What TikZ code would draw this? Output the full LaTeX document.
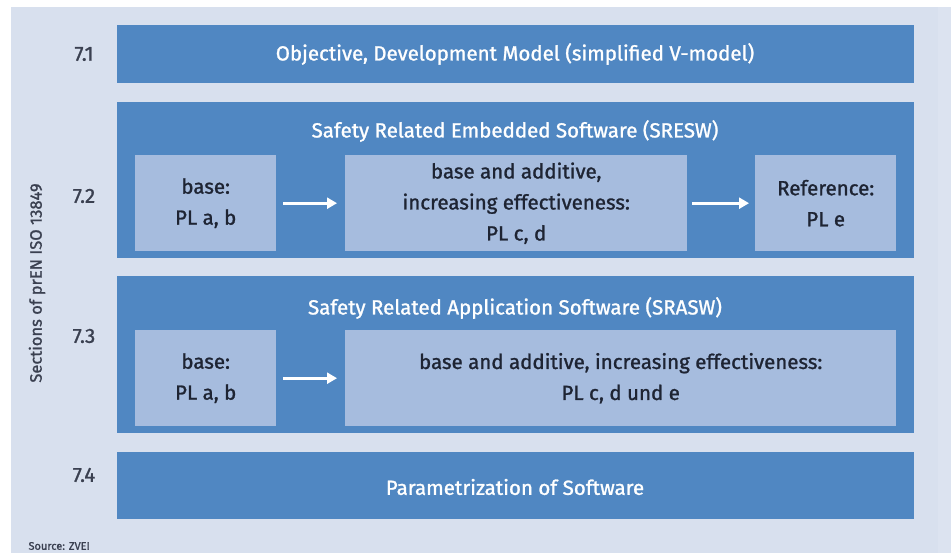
\documentclass[tikz,border=0pt]{standalone}
\usepackage{fontspec}
\setmainfont{Fira Sans}[FakeBold=1.2]
\usetikzlibrary{arrows.meta}
\definecolor{bgc}{HTML}{D8E0EE}
\definecolor{outerc}{HTML}{5087C2}
\definecolor{innerc}{HTML}{A6BCDE}
\definecolor{txtc}{HTML}{1E2433}
\definecolor{numc}{HTML}{3A4050}
\tikzset{
  outerbox/.style={fill=outerc, draw=none, inner sep=0pt, anchor=north west},
  innerbox/.style={fill=innerc, draw=none, inner sep=0pt, anchor=north west},
  headtxt/.style={text=white, font=\fontsize{20.5}{24}\selectfont},
  bodytxt/.style={text=txtc, align=center, font=\fontsize{20.5}{31}\selectfont},
  numtxt/.style={text=numc, font=\fontsize{20.5}{24}\selectfont},
  arr/.style={draw=white, line width=3pt, -{Triangle[length=10pt,width=11pt]}},
}
\begin{document}
\begin{tikzpicture}[x=1pt,y=-1pt]
\useasboundingbox (0,0) rectangle (951,553);
\fill[white] (0,0) rectangle (951,553);
\fill[bgc] (11,7) rectangle (951,553);
\fill[bgc!90!white] (938,7) rectangle (951,553);
% outer boxes
\node[outerbox, minimum width=797pt, minimum height=58pt] (b71) at (117,25) {};
\node[outerbox, minimum width=797pt, minimum height=156pt] (b72) at (117,102) {};
\node[outerbox, minimum width=797pt, minimum height=157pt] (b73) at (117,276) {};
\node[outerbox, minimum width=797pt, minimum height=67pt] (b74) at (117,452) {};
% headers
\node[headtxt] (h71) at (515,54) {Objective, Development Model (simplified V-model)};
\node[headtxt] (h72) at (515,131) {Safety Related Embedded Software (SRESW)};
\node[headtxt] (h73) at (515,308) {Safety Related Application Software (SRASW)};
\node[headtxt] (h74) at (515,487) {Parametrization of Software};
% inner boxes 7.2
\node[innerbox, minimum width=141pt, minimum height=96pt] (a72) at (135,155) {};
\node[innerbox, minimum width=342pt, minimum height=96pt] (m72) at (345,155) {};
\node[innerbox, minimum width=141pt, minimum height=96pt] (r72) at (755,155) {};
\node[bodytxt] (ta72) at (a72.center) {base:\\PL a, b};
\node[bodytxt] (tm72) at (m72.center) {base and additive,\\increasing effectiveness:\\PL c, d};
\node[bodytxt] (tr72) at (r72.center) {Reference:\\PL e};
\draw[arr] ([xshift=7pt]a72.east) -- ([xshift=-8pt]m72.west);
\draw[arr] ([xshift=5pt]m72.east) -- ([xshift=-6pt]r72.west);
% inner boxes 7.3
\node[innerbox, minimum width=141pt, minimum height=96pt] (a73) at (135,330) {};
\node[innerbox, minimum width=551pt, minimum height=96pt] (m73) at (345,330) {};
\node[bodytxt] (ta73) at (a73.center) {base:\\PL a, b};
\node[bodytxt] (tm73) at (m73.center) {base and additive, increasing effectiveness:\\PL c, d und e};
\draw[arr] ([xshift=7pt]a73.east) -- ([xshift=-8pt]m73.west);
% section numbers
\node[numtxt] (n71) at (84,54) {7.1};
\node[numtxt] (n72) at (84,196) {7.2};
\node[numtxt] (n73) at (84,336) {7.3};
\node[numtxt] (n74) at (84,475) {7.4};
\node[numtxt, rotate=90, font=\fontsize{16.5}{20}\selectfont] (side) at (37,283) {Sections of prEN ISO 13849};
\node[text=numc, font=\fontsize{11}{13}\selectfont, anchor=west] (src) at (25,546) {Source: ZVEI};
\end{tikzpicture}
\end{document}
